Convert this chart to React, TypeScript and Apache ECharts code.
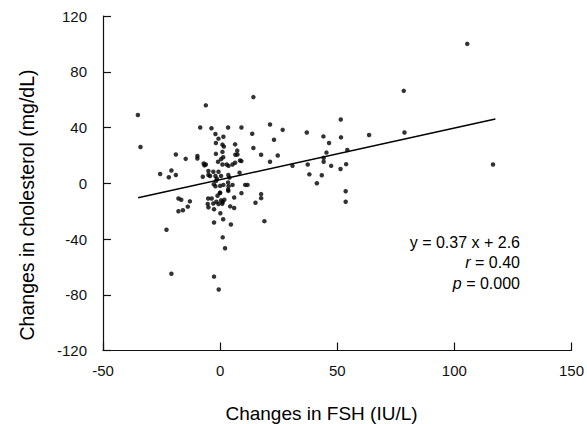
import React, { useEffect, useRef } from "react";
import * as echarts from "echarts";

const fshChange: number[] = [
  105.5, 78.4, 78.7, 116.5, 14.2, -6.1, -35.1, -34, 51.5, 63.6,
  51.6, 44.1, 37, 46.5, 54.3, 45.4, 44.2, 44.2, 47.4, 53.8,
  51.4, 37.4, 30.9, 38.1, 43.4, 41.3, 53.6, 53.6, 21.3, 26.7,
  23, 13.7, 14.2, 17.5, 24.6, 21.3, 9.1, 3.4, -3.7, -8.5,
  -2, 1.4, -0.7, -1.8, 1, 1.6, 6.4, 7.3, 7.4, 6.5,
  1, -1.8, 1.3, 0.4, -0.9, 1, 3.6, 5.3, 6.4, 8.5,
  9.1, 8.3, 4, -0.7, -2, 0.4, -1.4, -1.7, -2.7, -2,
  1.4, 3.4, 3.6, 5.3, 3.4, -0.1, -1.1, 9.1, 10.7, 11.7,
  6, 0.4, -1.6, 1.1, -0.7, 0.9, 4.3, 6, 0.1, -2.6,
  -5.1, -3.6, -5.3, -5, -2.6, 1.3, 4.6, 17.5, 17.5, 15.1,
  18.9, 1.1, 2.1, -2.6, -0.6, -20.8, -22.9, -25.6, -21.9, -20.8,
  -18.9, -18.9, -14.7, -9.7, -9.7, -7, -6.7, -6.1, -7.4, -5,
  -5, -17.8, -16.6, -12.9, -13.8, -15.9, -17.8, 1.8, 3.5, -4.3,
  -2.9, 2.8, 0, 3.5, -2.9, 0,
];

const cholChange: number[] = [
  100, 66.3, 36.4, 13.5, 61.8, 55.9, 49, 26, 45.7, 34.6,
  32.9, 33.6, 36.4, 28.9, 23.9, 22, 18.2, 15.4, 12.5, 13.7,
  10.2, 13.5, 12.5, 6.4, 5.7, 0, -5.7, -13.3, 42.1, 38.3,
  31.2, 35.5, 25.3, 20.4, 19.9, 15.4, 40, 40, 39.5, 40,
  35.3, 33.4, 32, 28.9, 27.7, 26.3, 27.9, 23.4, 20.6, 20.4,
  22.5, 21.1, 18.7, 17.3, 15.4, 13.5, 12.5, 13.5, 14.7, 16.3,
  15.9, 7.6, 4, 8.3, 5.2, 5.2, 3.3, 1.7, -0.7, -2.1,
  -1.2, 0.5, -2.1, -1.2, -4.7, -7.1, -9, -7.1, -1.2, -1.2,
  -10.2, -12.3, -13.3, -13.5, -14.9, -14.7, -16.6, -17.8, -21.5, -18.7,
  -10.9, -10.9, -14.9, -17.3, -28.2, -25.8, -29.6, -7.8, -10.7, -14,
  -27.2, -38.8, -46.6, -67, -76.2, -64.9, -33.4, 6.6, 4.3, 9.2,
  5.9, 20.6, 17.5, 19.6, 17.8, 14.2, 12.8, 13.5, 4.7, 8.8,
  5.9, -10.9, -11.8, -13, -16.8, -19.4, -20.1, -11.8, 5.9, 5.2,
  8.2, 13.5, -1.9, -5.5, -14.5, -6.7,
];

const xTicks = { min: -50, max: 150, interval: 50 };
const yTicks = { min: -120, max: 120, interval: 40 };

const slope = 0.37;
const intercept = 2.6;
const fitRangeX: number[] = [-35, 117.5];

const statLines: string[] = ["y = 0.37 x + 2.6", "{i|r} = 0.40", "{i|p} = 0.000"];

const xTitle = "Changes in FSH (IU/L)";
const yTitle = "Changes in cholesterol (mg/dL)";

const FONT = '"Liberation Sans", Arial, Helvetica, sans-serif';

export default function App() {
  const ref = useRef<HTMLDivElement>(null);

  useEffect(() => {
    if (!ref.current) return;
    document.body.style.margin = "0";
    const chart = echarts.init(ref.current, undefined, { renderer: "svg" });
    const points = fshChange.map((x, i) => [x, cholChange[i]]);
    const fit = fitRangeX.map((x) => [x, slope * x + intercept]);
    const axisCommon = {
      type: "value" as const,
      axisLine: { show: true, onZero: false, lineStyle: { color: "#111", width: 1.2 } },
      axisTick: { show: true, inside: true, length: 8, lineStyle: { color: "#111", width: 1.2 } },
      splitLine: { show: false },
      axisLabel: { color: "#111", fontSize: 15, fontFamily: FONT },
    };
    chart.setOption({
      animation: false,
      backgroundColor: "#fff",
      grid: { left: 103, right: 14.5, top: 16, bottom: 73.5, containLabel: false },
      xAxis: {
        ...axisCommon,
        min: xTicks.min,
        max: xTicks.max,
        interval: xTicks.interval,
        axisLabel: { ...axisCommon.axisLabel, margin: 12 },
      },
      yAxis: {
        ...axisCommon,
        min: yTicks.min,
        max: yTicks.max,
        interval: yTicks.interval,
        axisLabel: { ...axisCommon.axisLabel, margin: 16 },
      },
      series: [
        {
          type: "scatter",
          data: points,
          symbol: "circle",
          symbolSize: 4.5,
          itemStyle: { color: "#000" },
          silent: true,
        },
        {
          type: "line",
          data: fit,
          symbol: "none",
          lineStyle: { color: "#000", width: 1.5 },
          silent: true,
        },
      ],
      graphic: [
        ...statLines.map((t, i) => ({
          type: "text",
          x: 520,
          y: 242 + i * 20.5,
          style: {
            text: t,
            fill: "#000",
            font: `16px ${FONT}`,
            align: "right",
            verticalAlign: "middle",
            rich: { i: { fontStyle: "italic", fontSize: 16, fontFamily: FONT, fill: "#000" } },
          },
        })),
        {
          type: "text",
          x: 321.5,
          y: 413,
          style: {
            text: xTitle,
            fill: "#000",
            font: `19px ${FONT}`,
            align: "center",
            verticalAlign: "middle",
          },
        },
        {
          type: "text",
          x: 27,
          y: 205,
          rotation: Math.PI / 2,
          style: {
            text: yTitle,
            fill: "#000",
            font: `19.5px ${FONT}`,
            align: "center",
            verticalAlign: "middle",
          },
        },
      ],
    });
    return () => chart.dispose();
  }, []);

  return <div ref={ref} style={{ width: 587, height: 424 }} />;
}
